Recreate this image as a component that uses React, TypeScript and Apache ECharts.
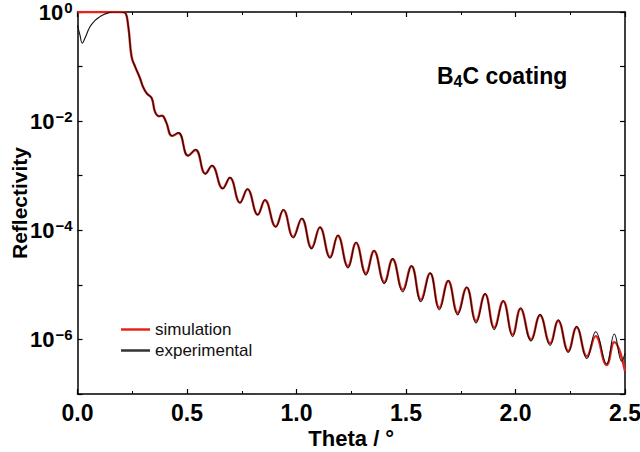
import React, { useEffect, useRef } from "react";
import * as echarts from "echarts";

// Theta (°) and log10(reflectivity)
const simTheta = [
  0, 0.201, 0.217, 0.232, 0.247, 0.263, 0.285, 0.3, 0.316, 0.339, 0.354, 0.372, 0.386, 0.404,
  0.432, 0.461, 0.505, 0.539, 0.584, 0.614, 0.663, 0.696, 0.742, 0.776, 0.823, 0.856, 0.905,
  0.94, 0.985, 1.024, 1.069, 1.107, 1.153, 1.189, 1.235, 1.272, 1.317, 1.354, 1.401, 1.439,
  1.485, 1.525, 1.568, 1.61, 1.652, 1.693, 1.736, 1.777, 1.82, 1.861, 1.903, 1.944, 1.987,
  2.023, 2.071, 2.112, 2.158, 2.195, 2.241, 2.279, 2.326, 2.366, 2.416, 2.451, 2.5,
];
const simLog = [
  0, 0, -0.01, -0.27, -0.82, -1.0, -1.21, -1.38, -1.49, -1.58, -1.83, -1.91, -1.9, -2.01,
  -2.27, -2.22, -2.63, -2.53, -2.96, -2.82, -3.23, -3.04, -3.49, -3.25, -3.71, -3.45, -3.93,
  -3.63, -4.12, -3.79, -4.32, -3.95, -4.49, -4.1, -4.66, -4.23, -4.79, -4.38, -4.95, -4.53,
  -5.09, -4.66, -5.27, -4.79, -5.42, -4.93, -5.51, -5.05, -5.66, -5.17, -5.78, -5.3, -5.91,
  -5.44, -6.0, -5.56, -6.07, -5.66, -6.21, -5.78, -6.31, -5.94, -6.47, -6.05, -6.58,
];

const expTheta = [
  0, 0.011, 0.022, 0.034, 0.057, 0.08, 0.103, 0.13, 0.162, 0.201, 0.217, 0.232, 0.247, 0.263,
  0.285, 0.3, 0.316, 0.339, 0.354, 0.372, 0.386, 0.404, 0.432, 0.461, 0.505, 0.539, 0.584,
  0.614, 0.663, 0.696, 0.742, 0.776, 0.823, 0.856, 0.905, 0.94, 0.985, 1.024, 1.069, 1.107,
  1.153, 1.189, 1.235, 1.272, 1.317, 1.354, 1.401, 1.439, 1.485, 1.525, 1.568, 1.61, 1.652,
  1.693, 1.736, 1.777, 1.82, 1.861, 1.903, 1.944, 1.987, 2.023, 2.071, 2.112, 2.158, 2.195,
  2.241, 2.279, 2.326, 2.366, 2.416, 2.451, 2.485, 2.5,
];
const expLog = [
  -0.24, -0.42, -0.57, -0.48, -0.27, -0.155, -0.085, -0.03, 0, 0, -0.01, -0.27, -0.82, -1.0,
  -1.21, -1.38, -1.49, -1.58, -1.83, -1.91, -1.9, -2.01, -2.27, -2.21, -2.64, -2.52, -2.97,
  -2.81, -3.24, -3.03, -3.5, -3.24, -3.72, -3.44, -3.94, -3.62, -4.14, -3.78, -4.34, -3.94,
  -4.51, -4.09, -4.69, -4.22, -4.82, -4.37, -4.98, -4.52, -5.13, -4.65, -5.31, -4.78, -5.46,
  -4.92, -5.55, -5.04, -5.7, -5.16, -5.82, -5.29, -5.95, -5.42, -6.03, -5.54, -6.11, -5.64,
  -6.24, -5.76, -6.35, -5.86, -6.45, -5.9, -6.4, -6.25,
];

const xTickLabels = ["0.0", "0.5", "1.0", "1.5", "2.0", "2.5"];
const seriesNames = ["simulation", "experimental"];

const FONT = "'Liberation Sans', Arial, Helvetica, sans-serif";

export default function App() {
  const ref = useRef<HTMLDivElement>(null);
  useEffect(() => {
    if (!ref.current) return;
    const chart = echarts.init(ref.current, undefined, { renderer: "svg" });
    const axisLine = { show: true, onZero: false, lineStyle: { color: "#000", width: 1.5 } };
    const tick = { show: true, inside: true, length: 5, lineStyle: { color: "#000", width: 1.2 } };
    const minor = { show: true, splitNumber: 2, length: 3, lineStyle: { color: "#000", width: 1 } };
    const ylab = (v: number) => {
      const e = Math.round(Math.log10(v));
      if (e % 2 !== 0) return "";
      return e === 0 ? "{b|10}{s|0}" : `{b|10}{s|\u2212${-e}}`;
    };
    chart.setOption({
      animation: false,
      textStyle: { fontFamily: FONT },
      grid: {
        left: 77.5,
        right: 15,
        top: 12,
        bottom: 58,
        containLabel: false,
        outerBoundsMode: "none",
      },
      legend: {
        data: seriesNames.map((n) => ({ name: n, icon: "rect" })),
        orient: "vertical",
        left: 116,
        top: 316,
        itemWidth: 29,
        itemHeight: 2.5,
        itemGap: 4,
        textStyle: { fontSize: 17, color: "#111", fontFamily: FONT },
      },
      graphic: [
        {
          type: "text",
          left: 437,
          top: 64,
          style: {
            text: "{a|B}{sub|4}{a|C coating}",
            rich: {
              a: { fontSize: 23, fontWeight: "bold", fill: "#000", fontFamily: FONT },
              sub: { fontSize: 16, fontWeight: "bold", fill: "#000", fontFamily: FONT, padding: [12, 0, 0, 0] },
            },
          },
        },
      ],
      xAxis: [
        {
          type: "value",
          min: 0,
          max: 2.5,
          interval: 0.5,
          position: "bottom",
          axisLine,
          axisTick: tick,
          minorTick: minor,
          splitLine: { show: false },
          axisLabel: {
            formatter: (v: number) => xTickLabels[Math.round(v / 0.5)] ?? "",
            fontSize: 23,
            fontWeight: "bold",
            color: "#000",
            margin: 7,
            fontFamily: FONT,
          },
          name: "Theta / °",
          nameLocation: "middle",
          nameGap: 33,
          nameMoveOverlap: false,
          nameTextStyle: { fontSize: 22, fontWeight: "bold", color: "#000", fontFamily: FONT },
        },
        {
          type: "value",
          min: 0,
          max: 2.5,
          interval: 0.5,
          position: "top",
          axisLine,
          axisTick: tick,
          minorTick: minor,
          splitLine: { show: false },
          axisLabel: { show: false },
        },
      ],
      yAxis: [
        {
          type: "log",
          logBase: 10,
          min: 1e-7,
          max: 1,
          splitNumber: 7,
          position: "left",
          axisLine,
          axisTick: tick,
          splitLine: { show: false },
          axisLabel: {
            formatter: ylab,
            margin: 5,
            color: "#000",
            rich: {
              b: { fontSize: 22, fontWeight: "bold", color: "#000", fontFamily: FONT },
              s: { fontSize: 15, fontWeight: "bold", color: "#000", fontFamily: FONT, padding: [0, 0, 10, 1] },
            },
          },
          name: "Reflectivity",
          nameLocation: "middle",
          nameGap: 48,
          nameMoveOverlap: false,
          nameTextStyle: { fontSize: 21, fontWeight: "bold", color: "#000", fontFamily: FONT },
        },
        {
          type: "log",
          logBase: 10,
          min: 1e-7,
          max: 1,
          splitNumber: 7,
          position: "right",
          axisLine,
          axisTick: tick,
          splitLine: { show: false },
          axisLabel: { show: false },
        },
      ],
      series: [
        {
          name: seriesNames[0],
          type: "line",
          xAxisIndex: 0,
          yAxisIndex: 0,
          smooth: 0.45,
          symbol: "none",
          showSymbol: false,
          lineStyle: { color: "#e8231b", width: 2.4 },
          itemStyle: { color: "#e8231b" },
          data: simTheta.map((t, i) => [t, Math.pow(10, simLog[i])]),
        },
        {
          name: seriesNames[1],
          type: "line",
          xAxisIndex: 0,
          yAxisIndex: 0,
          smooth: 0.45,
          symbol: "none",
          showSymbol: false,
          lineStyle: { color: "#111", width: 1.1 },
          itemStyle: { color: "#333" },
          data: expTheta.map((t, i) => [t, Math.pow(10, expLog[i])]),
        },
      ],
    });
    return () => chart.dispose();
  }, []);
  return (
    <div
      ref={ref}
      style={{ position: "fixed", left: 0, top: 0, width: 640, height: 452, background: "#fff" }}
    />
  );
}
